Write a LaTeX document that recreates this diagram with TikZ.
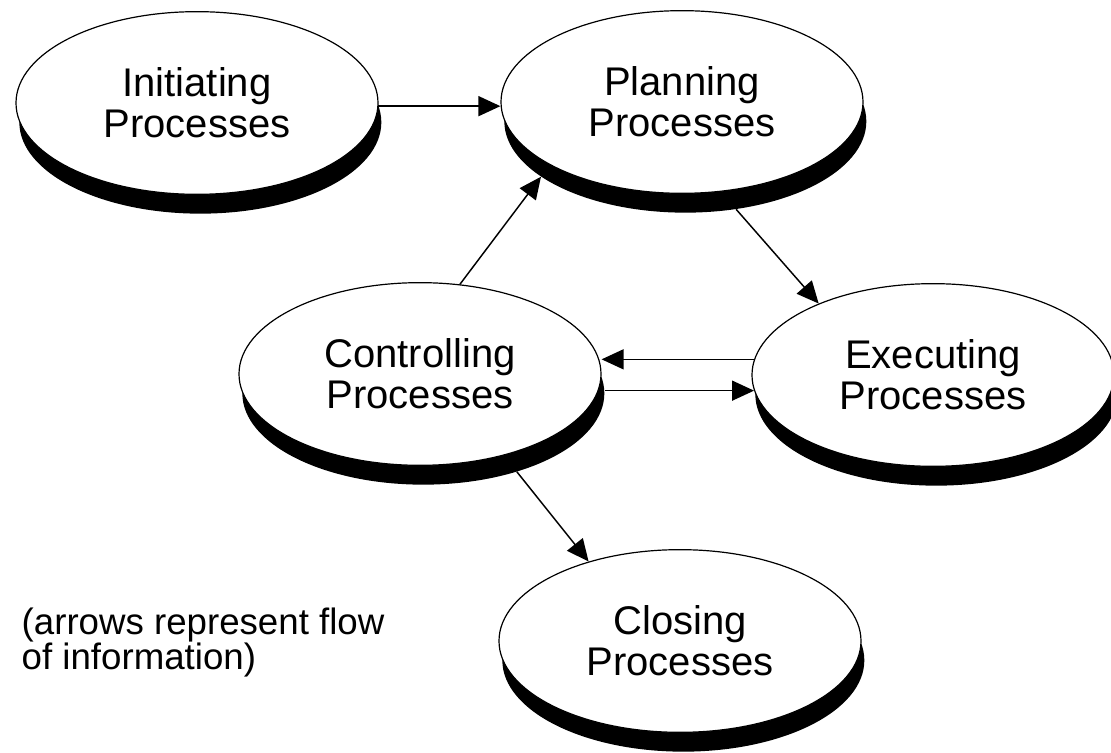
\documentclass[tikz,border=0pt]{standalone}
\usepackage{fontspec}
\setmainfont{Liberation Sans}
\usetikzlibrary{shapes.geometric,arrows.meta,backgrounds}

\begin{document}
\begin{tikzpicture}[x=0.75pt,y=0.75pt,
    proc/.style={ellipse,draw,fill=white,line width=0.9pt,minimum width=271.5pt,minimum height=137pt,align=center,font=\fontsize{30}{31}\selectfont},
    procshadow/.style={ellipse,fill=black,minimum width=271.5pt,minimum height=137pt},
    flow/.style={-{Triangle[length=16.5pt,width=15pt]},line width=1.1pt}]
    \useasboundingbox (0,0) rectangle (1111,753);

    \node[proc] (init) at (197,650) {Initiating\\Processes};
    \node[proc] (plan) at (682,651) {Planning\\Processes};
    \node[proc] (ctrl) at (420,379) {Controlling\\Processes};
    \node[proc] (exec) at (933,378) {Executing\\Processes};
    \node[proc] (close) at (680,112) {Closing\\Processes};

    % Schatten
    \begin{scope}[on background layer]
        \foreach \p in {init,plan,ctrl,exec,close}
            \node[procshadow] (\p-s) at ([xshift=2.5pt,yshift=-14.5pt]\p.center) {};
    \end{scope}

    \node (note) at (17,83) [anchor=base west,align=left,font=\fontsize{27.5}{26.5}\selectfont] {(arrows represent flow\\of information)};

    % Pfeile
    \draw[flow] (init.-1.5) -- (init.-1.5 -| plan.west);
    \draw[flow] (ctrl.66) -- (plan-s.201.5);
    \draw[flow] (plan-s.-60) -- (exec.148);
    \draw[flow] (exec.175) -- (exec.175 -| ctrl.east);
    \draw[flow] (exec.185 -| ctrl-s.east) -- (exec.185);
    \draw[flow] (ctrl-s.-40) -- (close.139.3);
\end{tikzpicture}
\end{document}
